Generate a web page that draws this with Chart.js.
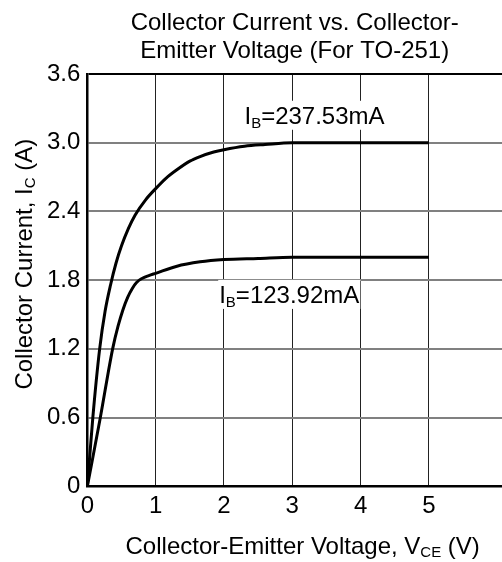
<!DOCTYPE html>
<html>
<head>
<meta charset="utf-8">
<script src="https://cdn.jsdelivr.net/npm/chart.js@4.4.0/dist/chart.umd.min.js"></script>
<style>
    html, body { margin: 0; padding: 0; background: #fff; }
    #wrap { width: 502px; height: 562px; }
</style>
</head>
<body>
<div id="wrap"><canvas id="myChart" width="502" height="562"></canvas></div>
<script>
// Ticks dos eixos
const xTicks = [0, 1, 2, 3, 4, 5];
const yTicks = [0, 0.6, 1.2, 1.8, 2.4, 3.0, 3.6];

// Curva IB = 237.53mA
const vceHigh = [0, 0.08, 0.18, 0.26, 0.34, 0.42, 0.5, 0.6, 0.7, 0.85, 1.0, 1.15, 1.3, 1.5, 1.65, 1.85, 2.0, 2.3, 2.6, 3.0, 4.0, 5.0];
const icHigh = [0, 0.6, 1.2, 1.53, 1.76, 1.95, 2.1, 2.25, 2.37, 2.5, 2.6, 2.69, 2.76, 2.84, 2.88, 2.92, 2.94, 2.97, 2.985, 3.0, 3.0, 3.0];

// Curva IB = 123.92mA
const vceLow = [0, 0.19, 0.37, 0.45, 0.52, 0.59, 0.66, 0.72, 0.8, 0.9, 1.0, 1.3, 1.65, 2.0, 2.5, 3.0, 4.0, 5.0];
const icLow = [0, 0.6, 1.2, 1.4, 1.54, 1.65, 1.73, 1.78, 1.815, 1.84, 1.86, 1.92, 1.96, 1.98, 1.99, 2.0, 2.0, 2.0];

// Textos
const titleLines = ['Collector Current vs. Collector-', 'Emitter Voltage (For TO-251)'];
const xTitle = [['Collector-Emitter Voltage, V', false], ['CE', true], [' (V)', false]];
const yTitle = [['Collector Current, I', false], ['C', true], [' (A)', false]];
const labelHigh = [['I', false], ['B', true], ['=237.53mA', false]];
const labelLow = [['I', false], ['B', true], ['=123.92mA', false]];

const FONT = '"Liberation Sans", Arial, sans-serif';

function toPoints(xs, ys) {
    return xs.map((x, i) => ({ x: x, y: ys[i] }));
}

// Texto com subscrito, alinhado à esquerda a partir de x
function richWidth(ctx, parts) {
    let w = 0;
    parts.forEach(([t, sub]) => {
        ctx.font = (sub ? '15px ' : '24px ') + FONT;
        w += ctx.measureText(t).width;
    });
    return w;
}
function drawRich(ctx, parts, x, y, subShift) {
    ctx.textBaseline = 'alphabetic';
    ctx.textAlign = 'left';
    parts.forEach(([t, sub]) => {
        ctx.font = (sub ? '15px ' : '24px ') + FONT;
        ctx.fillText(t, x, sub ? y + subShift : y);
        x += ctx.measureText(t).width;
    });
}

const textPlugin = {
    id: 'textPlugin',
    beforeDatasetsDraw(chart) {
        const ctx = chart.ctx;
        const xs = chart.scales.x, ys = chart.scales.y;
        // rótulos das curvas com fundo branco
        [[labelHigh, 2.3, 3.245], [labelLow, 1.93, 1.68]].forEach(([parts, vx, vy]) => {
            const px = xs.getPixelForValue(vx);
            const py = ys.getPixelForValue(vy);
            const w = richWidth(ctx, parts);
            ctx.save();
            ctx.fillStyle = '#fff';
            ctx.fillRect(px - 1, py - 14, w + 2, 29);
            ctx.fillStyle = '#000';
            drawRich(ctx, parts, px, py + 9, 4);
            ctx.restore();
        });
    },
    afterDraw(chart) {
        const ctx = chart.ctx;
        const a = chart.chartArea;
        ctx.save();
        ctx.fillStyle = '#000';
        // título do eixo X
        const wx = richWidth(ctx, xTitle);
        drawRich(ctx, xTitle, (a.left + a.right) / 2 + 8 - wx / 2, a.bottom + 68, 3);
        // título do eixo Y
        const wy = richWidth(ctx, yTitle);
        ctx.translate(32, (a.top + a.bottom) / 2 - 16);
        ctx.rotate(-Math.PI / 2);
        drawRich(ctx, yTitle, -wy / 2, 0, 3);
        ctx.restore();
    }
};

const lineStyle = {
    borderColor: '#000',
    borderWidth: 3,
    pointRadius: 0,
    fill: false,
    cubicInterpolationMode: 'monotone'
};

const ctx = document.getElementById('myChart').getContext('2d');
const chart = new Chart(ctx, {
    type: 'line',
    data: {
        datasets: [
            Object.assign({ label: 'IB=237.53mA', data: toPoints(vceHigh, icHigh) }, lineStyle),
            Object.assign({ label: 'IB=123.92mA', data: toPoints(vceLow, icLow) }, lineStyle)
        ]
    },
    options: {
        responsive: false,
        animation: false,
        layout: { padding: { left: 40, right: 0, top: 0, bottom: 35 } },
        plugins: {
            legend: { display: false },
            tooltip: { enabled: false },
            title: {
                display: true,
                text: titleLines,
                fullSize: false,
                color: '#000',
                font: { family: FONT, size: 24, weight: 'normal', lineHeight: 1.18 },
                padding: { top: 9, bottom: 8.5 }
            }
        },
        scales: {
            x: {
                type: 'linear',
                min: 0,
                max: 6.07,
                afterBuildTicks: (scale) => { scale.ticks = xTicks.map(v => ({ value: v })); },
                grid: { color: '#222', lineWidth: 1, drawTicks: false },
                border: { display: true, color: '#000', width: 2.5 },
                ticks: {
                    color: '#000',
                    padding: 6,
                    maxRotation: 0,
                    font: { family: FONT, size: 24 },
                    callback: (v) => String(v)
                }
            },
            y: {
                type: 'linear',
                min: 0,
                max: 3.6,
                afterBuildTicks: (scale) => { scale.ticks = yTicks.map(v => ({ value: v })); },
                grid: {
                    color: (c) => (c.tick && c.tick.value === 3.6 ? '#000' : '#808080'),
                    lineWidth: 2,
                    drawTicks: false
                },
                border: { display: true, color: '#000', width: 2.5 },
                ticks: {
                    color: '#000',
                    padding: 7,
                    font: { family: FONT, size: 24 },
                    callback: (v) => (v === 0 ? '0' : v.toFixed(1))
                }
            }
        }
    },
    plugins: [textPlugin]
});
</script>
</body>
</html>
